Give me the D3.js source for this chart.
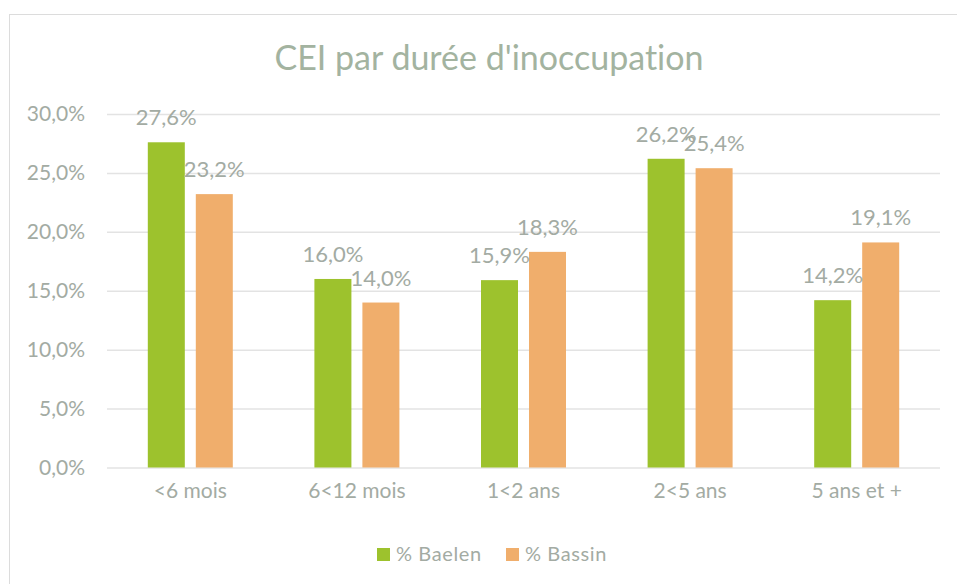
<!DOCTYPE html>
<html>
<head>
<meta charset="utf-8">
<script src="https://cdn.jsdelivr.net/npm/d3@7"></script>
<style>
  body { margin: 0; background: #fff; }
  svg text { font-family: Lato, "Open Sans", sans-serif; fill: #a3aba3; font-variant-ligatures: none; }
  .chartTitle { font-size: 34px; fill: #a3b3a0; }
  .tick text { font-size: 21px; }
  .catLabel { font-size: 18px; }
  .dataLabel { font-size: 22px; }
  .legendLabel { font-size: 20px; letter-spacing: 0.6px; }
</style>
</head>
<body>
<div id="chart"></div>
<script>
const categories = ["<6 mois", "6<12 mois", "1<2 ans", "2<5 ans", "5 ans et +"]
const seriesNames = ["% Baelen", "% Bassin"]
const baelen = [27.6, 16.0, 15.9, 26.2, 14.2]
const bassin = [23.2, 14.0, 18.3, 25.4, 19.1]
const yTicks = [0, 5, 10, 15, 20, 25, 30]
const colors = ["#9dc22d", "#f0ae6c"]

const fmt = v => v.toFixed(1).replace(".", ",") + "%"

const renderChart = (htmlComponent) => {
    const W = 957, H = 584
    const margin = { top: 114, bottom: 116.5, left: 107, right: 17 }
    const width = W - margin.left - margin.right
    const height = H - margin.top - margin.bottom

    const svg = d3.select(htmlComponent).append("svg")
        .attr("width", W)
        .attr("height", H)

    // chart border
    svg.append("rect")
        .attr("x", 9.5).attr("y", 14.5)
        .attr("width", 970).attr("height", 600)
        .attr("fill", "none")
        .attr("stroke", "#dcdcdc")

    svg.append("text")
        .attr("class", "chartTitle")
        .attr("x", 489)
        .attr("y", 70)
        .attr("text-anchor", "middle")
        .text("CEI par durée d'inoccupation")

    const g = svg.append("g")
        .attr("transform", `translate(${margin.left}, ${margin.top})`)

    const y = d3.scaleLinear().domain([0, 30]).range([height, 0])
    const x0 = d3.scaleBand().domain(categories).range([0, width])
    const groupWidth = 85
    const x1 = d3.scaleBand().domain(seriesNames).range([0, groupWidth]).paddingInner(0.229)

    // y axis: gridlines + labels
    const yAxis = g.append("g")
        .call(d3.axisLeft(y).tickValues(yTicks).tickFormat(fmt).tickSize(-width).tickPadding(22))
    yAxis.select(".domain").remove()
    yAxis.selectAll(".tick line").attr("stroke", "#e3e3e3").attr("stroke-width", 1.5)

    // x axis labels
    const xAxis = g.append("g")
        .attr("transform", `translate(0, ${height})`)
        .call(d3.axisBottom(x0).tickSize(0).tickPadding(30))
    xAxis.select(".domain").remove()
    xAxis.selectAll(".tick text").attr("class", "catLabel").attr("dy", 0)

    const rows = categories.map((c, i) => ({ cat: c, values: [baelen[i], bassin[i]] }))

    const groups = g.selectAll(".grp").data(rows)
        .enter().append("g")
            .attr("class", "grp")
            .attr("transform", d => `translate(${x0(d.cat) + (x0.bandwidth() - groupWidth) / 2}, 0)`)

    groups.selectAll("rect")
        .data(d => d.values.map((v, k) => ({ name: seriesNames[k], value: v, k: k })))
        .enter().append("rect")
            .attr("x", d => x1(d.name))
            .attr("y", d => y(d.value))
            .attr("width", x1.bandwidth())
            .attr("height", d => height - y(d.value))
            .attr("fill", d => colors[d.k])

    groups.selectAll(".dataLabel")
        .data(d => d.values.map((v, k) => ({ name: seriesNames[k], value: v })))
        .enter().append("text")
            .attr("class", "dataLabel")
            .attr("x", d => x1(d.name) + x1.bandwidth() / 2)
            .attr("y", d => y(d.value) - 17)
            .attr("text-anchor", "middle")
            .text(d => fmt(d.value))

    // legend
    const legendX = [377, 506]
    const legend = svg.append("g")
    seriesNames.forEach((name, i) => {
        legend.append("rect")
            .attr("x", legendX[i]).attr("y", 548)
            .attr("width", 13).attr("height", 13)
            .attr("fill", colors[i])
        legend.append("text")
            .attr("class", "legendLabel")
            .attr("x", legendX[i] + 19).attr("y", 561)
            .text(name)
    })
}

renderChart("#chart")
</script>
</body>
</html>
